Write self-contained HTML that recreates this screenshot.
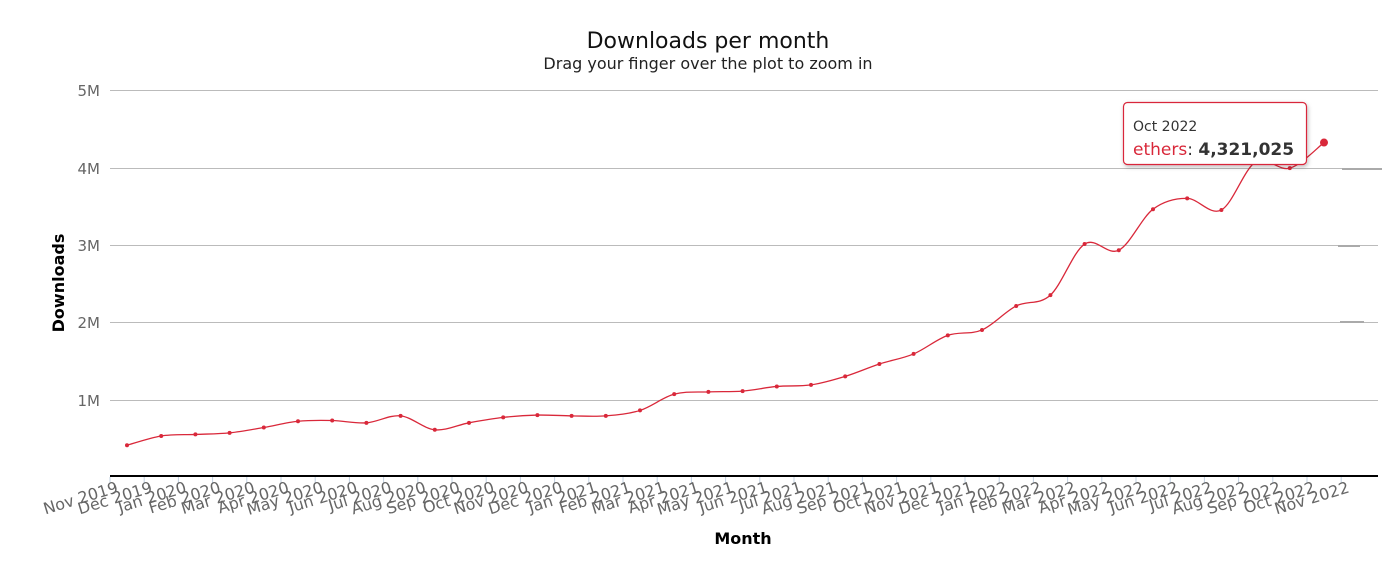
<!DOCTYPE html>
<html><head><meta charset="utf-8"><style>
html,body{margin:0;padding:0;background:#fff;}
svg{display:block;font-family:"DejaVu Sans","Liberation Sans",sans-serif;}
</style></head><body>
<svg id="c" width="1396" height="563" viewBox="0 0 1396 563" xmlns="http://www.w3.org/2000/svg">
<defs><filter id="sh" x="-10%" y="-10%" width="130%" height="140%"><feDropShadow dx="1" dy="2" stdDeviation="2" flood-color="#000" flood-opacity="0.25"/></filter></defs>
<text x="708" y="48" text-anchor="middle" font-size="22" fill="#111">Downloads per month</text>
<text x="708" y="69" text-anchor="middle" font-size="16" fill="#222">Drag your finger over the plot to zoom in</text>
<g font-size="15" fill="#666" text-anchor="end">
<text x="100" y="96">5M</text><text x="100" y="174">4M</text><text x="100" y="251">3M</text><text x="100" y="328">2M</text><text x="100" y="406">1M</text>
</g>
<g stroke="#bbb" stroke-width="1">
<line x1="110" y1="90.5" x2="1378" y2="90.5"/><line x1="110" y1="168.5" x2="1378" y2="168.5"/><line x1="110" y1="245.5" x2="1378" y2="245.5"/><line x1="110" y1="322.5" x2="1378" y2="322.5"/><line x1="110" y1="400.5" x2="1378" y2="400.5"/>
</g>
<g stroke="#aaa" stroke-width="2"><line x1="1342" y1="169" x2="1382" y2="169"/><line x1="1338" y1="246" x2="1360" y2="246"/><line x1="1340" y1="322" x2="1364" y2="322"/></g>
<line x1="110" y1="476" x2="1378" y2="476" stroke="#000" stroke-width="2"/>
<g id="ticks"></g>
<text transform="translate(64,283) rotate(-90)" text-anchor="middle" font-size="16" font-weight="bold" fill="#000">Downloads</text>
<text x="743" y="544" text-anchor="middle" font-size="16" font-weight="bold" fill="#000">Month</text>
<path id="line" fill="none" stroke="#d9283a" stroke-width="1.3"/>
<g id="pts" fill="#d9283a"></g>
<g filter="url(#sh)"><rect x="1123.5" y="102.5" width="183" height="62" rx="4" fill="#fff" stroke="#d9283a" stroke-width="1.2"/></g>
<text x="1133" y="131" font-size="14" fill="#333">Oct 2022</text>
<text x="1133" y="155" font-size="17" fill="#d9283a">ethers<tspan fill="#333">: </tspan><tspan fill="#333" font-weight="bold">4,321,025</tspan></text>
</svg>
<script>
var v=[0.41,0.53,0.55,0.57,0.64,0.72,0.73,0.70,0.79,0.61,0.70,0.77,0.80,0.79,0.79,0.86,1.07,1.10,1.11,1.17,1.19,1.30,1.46,1.59,1.83,1.90,2.21,2.35,3.01,2.93,3.46,3.60,3.45,4.07,3.99,4.321];
var ns="http://www.w3.org/2000/svg";
var P=v.map(function(y,i){return [127+i*34.2,477-y*77.4];});
var d="M"+P[0][0]+","+P[0][1];
for(var i=0;i<P.length-1;i++){
 var p0=P[Math.max(i-1,0)],p1=P[i],p2=P[i+1],p3=P[Math.min(i+2,P.length-1)];
 var t=1/6;
 d+=" C"+(p1[0]+(p2[0]-p0[0])*t)+","+(p1[1]+(p2[1]-p0[1])*t)+" "+(p2[0]-(p3[0]-p1[0])*t)+","+(p2[1]-(p3[1]-p1[1])*t)+" "+p2[0]+","+p2[1];
}
document.getElementById("line").setAttribute("d",d);
var g=document.getElementById("pts");
P.forEach(function(p,i){var c=document.createElementNS(ns,"circle");c.setAttribute("cx",p[0]);c.setAttribute("cy",p[1]);c.setAttribute("r",i==P.length-1?4:2);g.appendChild(c);});
var m=["Jan","Feb","Mar","Apr","May","Jun","Jul","Aug","Sep","Oct","Nov","Dec"];
var tg=document.getElementById("ticks");
for(var k=0;k<37;k++){
 var mi=(10+k)%12,yr=2019+Math.floor((10+k)/12);
 var x=110+k*34.2;
 var l=document.createElementNS(ns,"line");l.setAttribute("x1",x);l.setAttribute("x2",x);l.setAttribute("y1",477);l.setAttribute("y2",483);l.setAttribute("stroke","#c0d0e0");tg.appendChild(l);
 var t=document.createElementNS(ns,"text");t.setAttribute("transform","translate("+(x+9)+",492) rotate(-17)");t.setAttribute("text-anchor","end");t.setAttribute("font-size","16");t.setAttribute("fill","#666");t.textContent=m[mi]+" "+yr;tg.appendChild(t);
}
</script>
</body></html>
